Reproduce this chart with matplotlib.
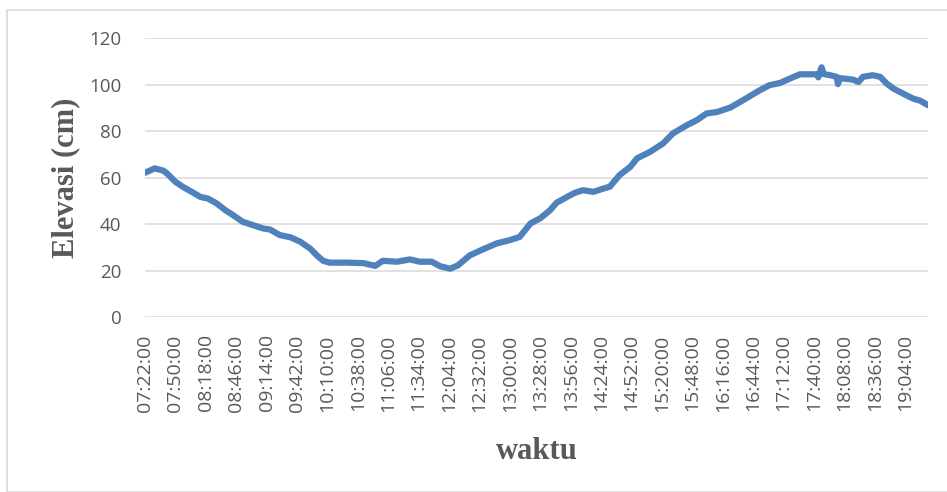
import matplotlib
matplotlib.use("Agg")
import matplotlib.pyplot as plt
from matplotlib.patches import Rectangle

# ---- data ----
# sample index along the categorical time axis (one category per reading)
sample_idx = [0, 9, 17, 21, 28, 35, 43, 51, 58, 66, 74, 81, 90, 99, 109, 115,
              124, 134, 143, 152, 159, 164, 170, 186, 201, 212, 219, 232, 244,
              253, 264, 272, 281, 288, 299, 311, 324, 336, 345, 355, 364, 373,
              379, 389, 396, 403, 413, 422, 428, 437, 447, 453, 465, 477, 486,
              499, 508, 517, 527, 539, 548, 557, 566, 575, 585, 594, 603, 612,
              619, 620, 623, 625, 631, 637, 638, 640, 643, 652, 657, 661, 670,
              677, 683, 689, 698, 707, 714, 721]
elevasi_cm = [62.1, 64.0, 63.0, 61.5, 58.2, 56.0, 53.9, 51.7, 51.0, 48.9, 46.0,
              43.9, 41.0, 39.6, 38.1, 37.7, 35.3, 34.3, 32.4, 29.5, 26.2, 24.2,
              23.4, 23.4, 23.2, 22.0, 24.2, 23.8, 24.8, 23.8, 23.8, 21.8, 20.8,
              22.2, 26.5, 29.1, 31.7, 33.1, 34.5, 40.3, 42.5, 46.0, 49.2, 51.8,
              53.5, 54.6, 53.9, 55.3, 56.1, 61.1, 64.7, 68.3, 71.1, 74.7, 79.0,
              82.6, 84.7, 87.6, 88.3, 90.2, 92.6, 95.1, 97.6, 99.8, 100.8, 102.7,
              104.5, 104.5, 104.5, 103.2, 107.5, 104.6, 104.1, 103.4, 100.3,
              102.8, 102.7, 102.2, 101.2, 103.4, 104.1, 103.4, 100.5, 98.4,
              96.2, 94.1, 93.1, 91.2]
n_categories = 722
tick_labels = ["07:22:00", "07:50:00", "08:18:00", "08:46:00", "09:14:00",
               "09:42:00", "10:10:00", "10:38:00", "11:06:00", "11:34:00",
               "12:04:00", "12:32:00", "13:00:00", "13:28:00", "13:56:00",
               "14:24:00", "14:52:00", "15:20:00", "15:48:00", "16:16:00",
               "16:44:00", "17:12:00", "17:40:00", "18:08:00", "18:36:00",
               "19:04:00"]
y_ticks = [0, 20, 40, 60, 80, 100, 120]

W, H = 947, 492
fig = plt.figure(figsize=(W / 100, H / 100), dpi=100)

# chart frame
fig.patches.append(Rectangle((7 / W, 0), 1 - 7 / W + 0.01, 1 - 10 / H,
                             transform=fig.transFigure, fill=False,
                             edgecolor="#D9D9D9", linewidth=1.2))

ax = fig.add_axes([145 / W, 1 - 317 / H, (928 - 145) / W, (317 - 38.3) / H])
ax.plot(sample_idx, elevasi_cm, color="#4F81BD", linewidth=4.5,
        solid_capstyle="round", solid_joinstyle="round", zorder=3)

ax.set_xlim(0, n_categories - 1)
ax.set_ylim(0, 120)
ax.set_yticks(y_ticks)
ax.set_xticks(range(0, 28 * len(tick_labels), 28))
ax.set_xticklabels(tick_labels, rotation=90)

for s in ax.spines.values():
    s.set_visible(False)
ax.grid(axis="y", color="#D9D9D9", linewidth=1.1)
ax.set_axisbelow(True)
ax.tick_params(axis="both", length=0, colors="#595959")
ax.tick_params(axis="y", pad=17, labelsize=13.5)
ax.tick_params(axis="x", pad=12.5, labelsize=14)
for lab in ax.get_xticklabels() + ax.get_yticklabels():
    lab.set_fontfamily("Open Sans")

ax.set_ylabel("Elevasi (cm)", fontfamily="Liberation Serif", fontweight="bold",
              fontsize=22, color="#595959")
ax.yaxis.set_label_coords((80 - 145) / (928 - 145), 0.5)
ax.set_xlabel("waktu", fontfamily="Liberation Serif", fontweight="bold",
              fontsize=22, color="#595959")
ax.xaxis.set_label_coords(0.5, -(437 - 317) / (317 - 38.3))

fig.savefig("out.png", dpi=100)
